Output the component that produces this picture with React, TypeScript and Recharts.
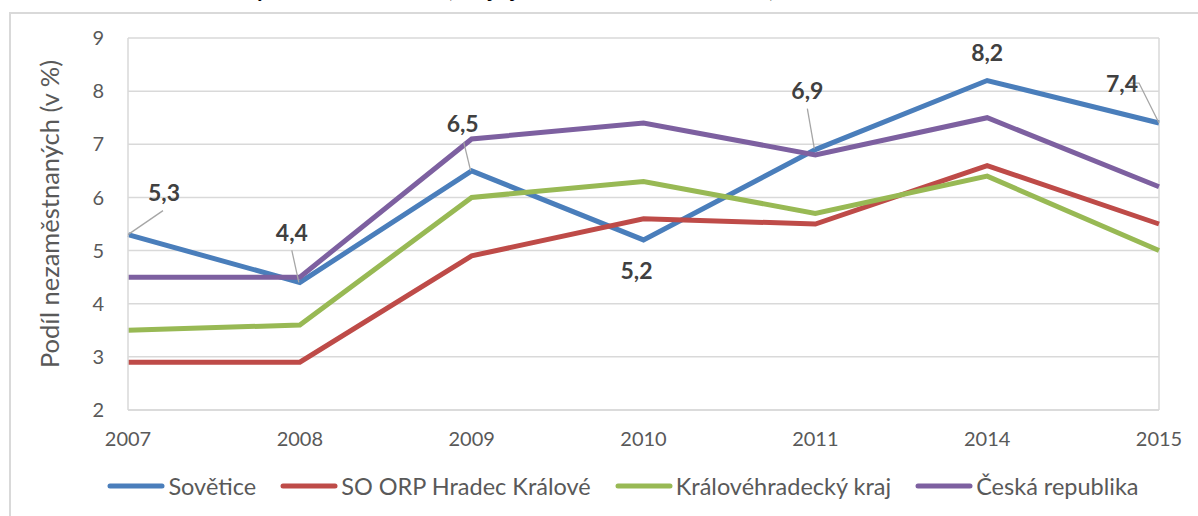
import React from 'react';
import { LineChart, Line, XAxis, YAxis, CartesianGrid, ReferenceLine } from 'recharts';

const years = ['2007', '2008', '2009', '2010', '2011', '2014', '2015'];
const sovetice = [5.3, 4.4, 6.5, 5.2, 6.9, 8.2, 7.4];
const orpHK = [2.9, 2.9, 4.9, 5.6, 5.5, 6.6, 5.5];
const krajHK = [3.5, 3.6, 6.0, 6.3, 5.7, 6.4, 5.0];
const cr = [4.5, 4.5, 7.1, 7.4, 6.8, 7.5, 6.2];
const yTicks = [2, 3, 4, 5, 6, 7, 8, 9];

const seriesNames = ['Sovětice', 'SO ORP Hradec Králové', 'Královéhradecký kraj', 'Česká republika'];
const seriesKeys = ['sovetice', 'orp', 'kraj', 'cr'];
const seriesColors = ['#4a7ebb', '#be4b48', '#98b954', '#7d60a0'];

const data = years.map((y, i) => ({
  year: y,
  sovetice: sovetice[i],
  orp: orpHK[i],
  kraj: krajHK[i],
  cr: cr[i],
}));

const FONT = 'Lato, "Open Sans", sans-serif';

// label placement relative to the point: [dx, dy, leader line points]
const labelPos: { dx: number; dy: number; leader?: number[][] }[] = [
  { dx: 36, dy: -43, leader: [[0, 0], [35, -24]] },
  { dx: -8, dy: -50, leader: [[-1, 0], [-8, -32]] },
  { dx: -9, dy: -48, leader: [[-1, 0], [-8, -29]] },
  { dx: -7, dy: 30 },
  { dx: -8, dy: -60, leader: [[-1, -1], [-8, -41]] },
  { dx: 0, dy: -29 },
  { dx: -37, dy: -40, leader: [[0, 0], [-20, -40], [-30, -40]] },
];

const renderLabel = (props: any) => {
  const { x, y, value, index } = props;
  const p = labelPos[index];
  const txt = String(value).replace('.', ',');
  return (
    <g key={'lbl' + index}>
      {p.leader && (
        <polyline
          points={p.leader.map(([a, b]) => `${x + a},${y + b}`).join(' ')}
          fill="none"
          stroke="#a6a6a6"
          strokeWidth={1.3}
        />
      )}
      <text
        x={x + p.dx}
        y={y + p.dy}
        textAnchor="middle"
        dominantBaseline="central"
        fontFamily={FONT}
        fontWeight={700}
        fontSize={23}
        fill="#404040"
      >
        {txt}
      </text>
    </g>
  );
};

const tickStyle = { fill: '#595959', fontSize: 20, fontFamily: FONT };

export default function App() {
  return (
    <div style={{ position: 'absolute', left: 0, top: 0, width: 1198, height: 516, overflow: 'hidden', background: '#fff' }}>
      <div
        style={{
          position: 'absolute',
          left: 0,
          top: -25,
          width: 672,
          textAlign: 'right',
          whiteSpace: 'nowrap',
          fontFamily: FONT,
          fontWeight: 700,
          fontSize: 22,
          color: '#000',
        }}
      >
        Graf 3: Podíl nezaměstnaných v obci Sovětice (údaje jsou k 31. 12. daného roku)
      </div>
      <div
        style={{
          position: 'absolute',
          left: 9,
          top: 12,
          width: 1200,
          height: 520,
          borderLeft: '2px solid #d9d9d9',
          borderTop: '2px solid #d9d9d9',
        }}
      />
      <div style={{ position: 'absolute', left: 0, top: 0 }}>
        <LineChart width={1198} height={516} data={data} margin={{ top: 38, right: 39, bottom: 76, left: 0 }}>
          <CartesianGrid vertical={false} stroke="#d9d9d9" strokeWidth={1.5} />
          <ReferenceLine x="2015" stroke="#d9d9d9" strokeWidth={1.5} />
          <XAxis
            dataKey="year"
            height={30}
            axisLine={{ stroke: '#d9d9d9', strokeWidth: 1.5 }}
            tickLine={false}
            tick={tickStyle}
            dy={14}
            interval={0}
          />
          <YAxis
            width={128}
            domain={[2, 9]}
            ticks={yTicks}
            axisLine={{ stroke: '#d9d9d9', strokeWidth: 1.5 }}
            tickLine={false}
            tick={tickStyle}
            dx={-16}
            label={{
              value: 'Podíl nezaměstnaných (v %)',
              angle: -90,
              position: 'insideLeft',
              offset: 0,
              dx: 50,
              dy: -10,
              style: { fill: '#595959', fontSize: 25.5, fontFamily: FONT, textAnchor: 'middle' },
            }}
          />
          {seriesKeys.map((k, i) => (
            <Line
              key={k}
              dataKey={k}
              name={seriesNames[i]}
              stroke={seriesColors[i]}
              strokeWidth={5}
              dot={false}
              isAnimationActive={false}
              label={i === 0 ? renderLabel : undefined}
            />
          ))}
        </LineChart>
      </div>
      <div
        style={{
          position: 'absolute',
          left: 0,
          width: 1270,
          top: 472,
          display: 'flex',
          justifyContent: 'center',
          fontFamily: FONT,
          fontSize: 23.5,
          color: '#595959',
        }}
      >
        {seriesNames.map((n, i) => (
          <div key={n} style={{ display: 'flex', alignItems: 'center', marginRight: 24 }}>
            <svg width={58} height={10} style={{ marginRight: 3 }}>
              <line x1={3} y1={5} x2={55} y2={5} stroke={seriesColors[i]} strokeWidth={5} strokeLinecap="round" />
            </svg>
            <span>{n}</span>
          </div>
        ))}
      </div>
    </div>
  );
}
